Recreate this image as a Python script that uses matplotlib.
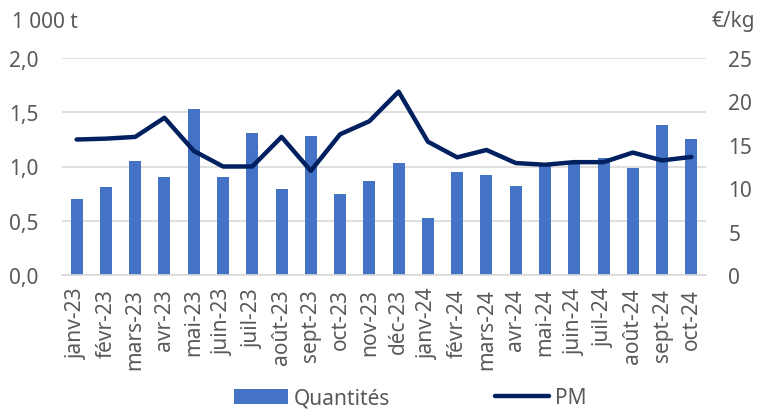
import matplotlib.pyplot as plt
import numpy as np

mois = ["janv-23", "févr-23", "mars-23", "avr-23", "mai-23", "juin-23", "juil-23",
        "août-23", "sept-23", "oct-23", "nov-23", "déc-23", "janv-24", "févr-24",
        "mars-24", "avr-24", "mai-24", "juin-24", "juil-24", "août-24", "sept-24", "oct-24"]
quantites = [0.70, 0.81, 1.05, 0.90, 1.53, 0.90, 1.31, 0.79, 1.28, 0.75, 0.87, 1.03,
             0.53, 0.95, 0.92, 0.82, 1.01, 1.03, 1.08, 0.99, 1.38, 1.25]
pm = [15.6, 15.7, 15.9, 18.1, 14.3, 12.5, 12.5, 15.9, 12.0, 16.2, 17.7, 21.1,
      15.35, 13.55, 14.4, 12.9, 12.7, 13.0, 13.0, 14.1, 13.2, 13.6]

plt.rcParams['font.family'] = ['Noto Sans', 'DejaVu Sans']
plt.rcParams['font.weight'] = 'light'
gris = "#595959"
fs = 15

fig = plt.figure(figsize=(7.58, 4.10), dpi=100)
ax = fig.add_axes([62/758, 1-276.3/410, 644/758, (276.3-58.7)/410])
x = np.arange(len(mois))
ax.bar(x, quantites, width=0.41, color="#4472C4", label="Quantités", zorder=2)
ax.set_ylim(0, 2.0)
ax.set_xlim(-0.5, len(mois)-0.5)
ax.set_yticks([0, 0.5, 1.0, 1.5, 2.0])
ax.set_yticklabels(["0,0", "0,5", "1,0", "1,5", "2,0"])
ax.grid(axis="y", color="#d9d9d9", lw=1.2, zorder=0)
ax.set_axisbelow(True)
ax.set_xticks(x)
ax.set_xticklabels(mois, rotation=90)
for s in ax.spines.values():
    s.set_visible(False)
ax.spines["bottom"].set_visible(True)
ax.spines["bottom"].set_color("#d9d9d9")
ax.spines["bottom"].set_linewidth(1.2)
ax.tick_params(axis="y", length=0, labelsize=fs, colors=gris, pad=17)
ax.tick_params(axis="x", length=0, labelsize=fs, colors=gris, pad=9)

ax2 = ax.twinx()
ax2.plot(x, pm, color="#002060", lw=3.2, solid_capstyle="round", label="PM", zorder=3)
ax2.set_ylim(0, 25)
ax2.set_yticks([0, 5, 10, 15, 20, 25])
for s in ax2.spines.values():
    s.set_visible(False)
ax2.tick_params(length=0, labelsize=fs, colors=gris, pad=16)

fig.text(12/758, 1-22/410, "1 000 t", fontsize=fs, color=gris, va="center")
fig.text(711/758, 1-22/410, "€/kg", fontsize=fs, color=gris, va="center")

h1, l1 = ax.get_legend_handles_labels()
h2, l2 = ax2.get_legend_handles_labels()
fig.legend(h1 + h2, l1 + l2, loc="center", bbox_to_anchor=(0.541, 1-399/410), ncol=2,
           frameon=False, fontsize=fs, labelcolor=gris, handlelength=2.6,
           handleheight=0.7, columnspacing=5.0, handletextpad=0.3)

fig.savefig("out.png", dpi=100)
